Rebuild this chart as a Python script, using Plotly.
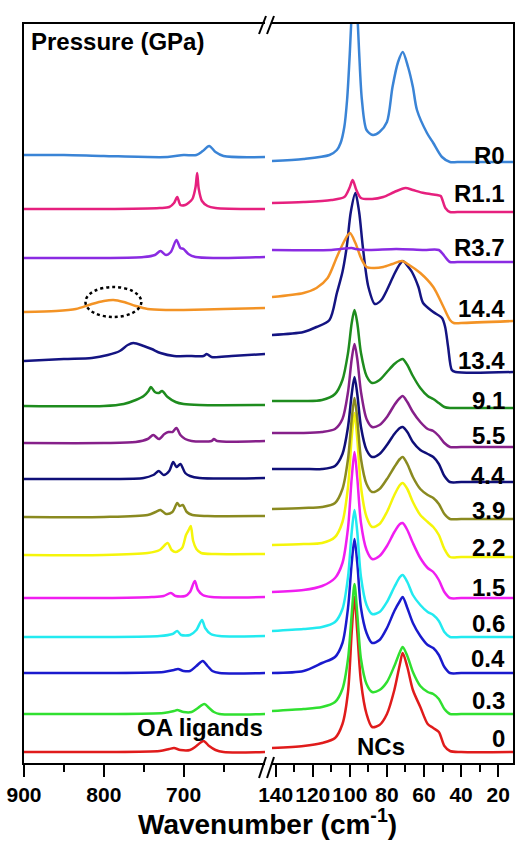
import plotly.graph_objects as go

FONT = "Liberation Sans, Arial, sans-serif"

# ---------------- data ----------------
labels = ["0", "0.3", "0.4", "0.6", "1.5", "2.2", "3.9", "4.4", "5.5", "9.1",
          "13.4", "14.4", "R3.7", "R1.1", "R0"]
colors = ["#E01B1B", "#30E030", "#1A1ACD", "#22EAF0", "#F01EF0", "#F5F50A",
          "#8A8A20", "#0F0F78", "#86208A", "#1E8C1E", "#141482", "#F39325",
          "#8A2BE2", "#E6207E", "#3A84D6"]
# stacking offsets (a.u.) for the OA-ligand panel and for the NC panel
offset_left = [11, 49, 90, 126, 165, 208, 246, 284, 320, 357, 402, 451, 505, 554, 608]
offset_right = [11, 49, 90, 126, 165, 206, 244, 281, 316, 355, 391, 440, 501, 551, 601]
label_y = [25, 63, 105, 140, 176, 216, 253, 288, 328, 363, 403, 455, 516, 570, 608]

# OA ligands region: (wavenumber, intensity above baseline)
L_0 = [(900, 0), (800, 0), (730, 1), (718, 3), (712, 4), (704, 2), (692, 2), (684, 6), (675, 11), (668, 6), (660, 2), (650, 0), (598, 0)]
L_03 = [(900, 0), (800, 0), (725, 1), (712, 3), (708, 4), (700, 2), (690, 2), (682, 6), (674, 10), (668, 6), (662, 2), (655, 0), (598, 0)]
L_04 = [(900, 0), (800, 0), (725, 1), (712, 3), (707, 4), (700, 2), (692, 2), (684, 7), (676, 12), (670, 7), (664, 2), (655, 0), (598, 0)]
L_06 = [(900, 0), (800, 0), (730, 1), (714, 3), (708, 6), (703, 2), (692, 2), (684, 7), (677, 17), (673, 9), (666, 3), (655, 1), (598, 1)]
L_15 = [(900, 0), (800, 0), (740, 1), (725, 2), (716, 5), (710, 2), (698, 2), (692, 6), (686, 17), (682, 8), (676, 3), (665, 1), (598, 1)]
L_22 = [(900, 0), (800, 0), (745, 2), (730, 5), (720, 12), (715, 5), (710, 3), (702, 7), (697, 20), (693, 26), (691, 29), (688, 14), (684, 6), (678, 2), (660, 1), (598, 1)]
L_39 = [(900, 0), (800, 0), (745, 2), (735, 5), (729, 7), (722, 3), (714, 5), (708, 14), (705, 11), (701, 12), (696, 5), (689, 2), (670, 1), (598, 1)]
L_44 = [(900, 0), (800, 0), (750, 1), (738, 4), (731, 8), (725, 4), (718, 8), (713, 17), (709, 12), (704, 15), (698, 6), (692, 3), (680, 1), (598, 1)]
L_55 = [(900, 0), (800, 0), (760, 1), (745, 4), (738, 8), (731, 4), (724, 9), (719, 11), (714, 11), (709, 15), (704, 8), (698, 4), (690, 2), (665, 2), (662, 4), (658, 2), (598, 2)]
L_91 = [(900, 0), (800, 0), (775, 2), (760, 6), (750, 10), (744, 15), (741, 19), (736, 14), (731, 13), (727, 15), (720, 9), (710, 4), (700, 2), (680, 1), (598, 1)]
L_134 = [(900, 0), (850, 2), (815, 3), (795, 6), (780, 10), (770, 16), (763, 18), (750, 15), (740, 12), (729, 8), (712, 5), (690, 5), (675, 5), (671, 7), (665, 4), (640, 5), (598, 7)]
L_144 = [(900, 0), (860, 1), (835, 3), (815, 8), (800, 11), (788, 12), (775, 10), (760, 6), (745, 3), (720, 2), (700, 2), (650, 3), (598, 4)]
L_R37 = [(900, 0), (800, 0), (750, 1), (736, 3), (729, 7), (722, 3), (716, 6), (709, 18), (704, 10), (700, 9), (694, 4), (685, 1), (660, 0), (598, 1)]
L_R11 = [(900, 0), (800, 0), (730, 1), (718, 2), (712, 6), (708, 12), (704, 4), (698, 4), (694, 6), (689, 10), (685, 22), (683, 36), (681, 20), (677, 8), (670, 3), (660, 1), (598, 0)]
L_R0 = [(900, 0), (850, 0), (800, -1), (720, -2), (700, 0), (684, 0), (676, 4), (668, 9), (660, 3), (650, -1), (598, -2)]

# NC region: shared wavenumber grid for the lower spectra
NC_WN = [142, 125, 115, 108, 104, 101, 99, 97.5, 96, 94, 91, 88, 84, 80, 76, 73, 71.5, 69, 66, 62, 58, 55, 52, 49, 46, 40, 12]
N_0 = [4, 6, 9, 14, 28, 60, 120, 155, 120, 70, 38, 25, 27, 38, 62, 88, 99, 85, 62, 45, 28, 24, 20, 6, 1, 0, 0]
N_03 = [3, 5, 7, 12, 25, 55, 100, 130, 100, 55, 30, 22, 24, 32, 48, 62, 67, 58, 42, 28, 22, 20, 15, 5, 0, 0, 0]
N_04 = [0, 2, 10, 16, 30, 65, 110, 134, 110, 65, 40, 30, 33, 45, 62, 72, 76, 65, 50, 37, 28, 25, 18, 6, 0, 0, 0]
N_06 = [6, 8, 10, 15, 28, 60, 105, 127, 105, 60, 32, 23, 25, 35, 50, 60, 62, 55, 42, 32, 25, 22, 16, 5, 0, 0, 0]
N_15 = [6, 8, 12, 20, 35, 70, 120, 146, 120, 75, 48, 39, 42, 52, 66, 74, 75, 68, 55, 40, 30, 26, 18, 6, 0, 0, 0]
N_22 = [12, 13, 14, 20, 35, 70, 120, 144, 118, 70, 40, 30, 33, 45, 62, 72, 74, 68, 55, 42, 35, 30, 22, 8, 0, 0, 0]
N_39 = [10, 11, 12, 16, 30, 60, 100, 121, 100, 60, 35, 27, 30, 40, 52, 60, 62, 55, 42, 30, 24, 21, 15, 5, 0, 0, 0]
N_44 = [13, 13, 13, 16, 28, 55, 88, 105, 88, 55, 32, 25, 28, 37, 48, 54, 55, 50, 40, 32, 28, 25, 18, 6, 0, 0, 0]
N_55 = [14, 14, 15, 18, 28, 55, 88, 103, 88, 55, 28, 20, 22, 30, 42, 49, 51, 45, 35, 25, 18, 16, 11, 4, 0, 0, 0]
N_91 = [7, 7, 8, 14, 28, 55, 85, 98, 85, 55, 32, 25, 28, 36, 44, 48, 49, 43, 32, 20, 12, 9, 5, 1, 0, 0, 0]

WN_134 = [142, 125, 118, 111, 107, 104, 101.7, 99.5, 97, 95, 93, 90, 86.5, 83, 80, 76, 73, 71.4, 68, 66.5, 63, 60.5, 55, 50.3, 48.6, 47, 45, 43, 12]
N_134 = [37, 40, 45, 52, 79, 100, 125, 160, 179, 160, 125, 85, 68, 72, 82, 98, 108, 111, 104, 100, 85, 69, 60, 54, 45, 25, 2, 0, 0]
WN_144 = [142, 125, 118, 112, 107, 103, 100, 97, 94, 91, 87, 82, 77, 72, 68, 62, 55, 50, 46, 44, 40, 12]
N_144 = [26, 30, 35, 45, 66, 82, 90, 80, 65, 56, 55, 56, 59, 62, 58, 50, 36, 18, 3, 0, 0, 2]
WN_R37 = [142, 110, 99, 97, 90, 75, 60, 52, 49, 46, 42, 12]
N_R37 = [12, 12, 14, 13, 12, 13, 12, 12, 6, 0, 0, 0]
WN_R11 = [142, 125, 110, 103, 100, 98.5, 96.5, 94, 88, 82, 76, 70, 66, 60, 53, 51, 48.5, 46, 42, 12]
N_R11 = [9, 10, 12, 15, 25, 32, 22, 14, 13, 15, 20, 24, 22, 19, 17, 16, 4, 0, 0, 0]
WN_R0 = [142, 125, 111, 107, 105, 103, 101.5, 100, 98.5, 97.5, 96.5, 95, 93.5, 91, 87.6, 84, 80, 77, 74, 71.5, 68.6, 66, 63.8, 58.4, 55, 50.3, 46, 42, 12]
N_R0 = [1, 3, 7, 12, 19, 35, 62, 110, 170, 200, 170, 110, 62, 32, 27, 30, 40, 75, 100, 110, 95, 75, 52, 29, 19, 5, 0, 0, 0]

left_sets = [L_0, L_03, L_04, L_06, L_15, L_22, L_39, L_44, L_55, L_91, L_134, L_144, L_R37, L_R11, L_R0]
right_sets = [(NC_WN, N_0), (NC_WN, N_03), (NC_WN, N_04), (NC_WN, N_06), (NC_WN, N_15),
              (NC_WN, N_22), (NC_WN, N_39), (NC_WN, N_44), (NC_WN, N_55), (NC_WN, N_91),
              (WN_134, N_134), (WN_144, N_144), (WN_R37, N_R37), (WN_R11, N_R11), (WN_R0, N_R0)]

left_major = [900, 800, 700]
left_minor = [850, 750, 650]
right_major = [140, 120, 100, 80, 60, 40, 20]
right_minor = [130, 110, 90, 70, 50, 30]

# ---------------- figure ----------------
W, H = 519, 845
ML, MR, MT, MB = 24, 6, 24, 82
PW = W - ML - MR
PH = H - MT - MB
D1 = (265 - ML) / PW
D2 = (272 - ML) / PW


def px(xp):
    return (xp - ML) / PW


def py(yp):
    return (H - MB - yp) / PH


fig = go.Figure()
for i in range(len(labels)):
    wl = [p[0] for p in left_sets[i]]
    vl = [offset_left[i] + p[1] for p in left_sets[i]]
    fig.add_trace(go.Scatter(x=wl, y=vl, xaxis="x", yaxis="y", mode="lines",
                             line=dict(color=colors[i], width=2.5, shape="spline", smoothing=0.8),
                             hoverinfo="skip", showlegend=False))
    wr, nr = right_sets[i]
    fig.add_trace(go.Scatter(x=wr, y=[offset_right[i] + v for v in nr], xaxis="x2", yaxis="y2",
                             mode="lines",
                             line=dict(color=colors[i], width=2.5, shape="spline", smoothing=0.8),
                             hoverinfo="skip", showlegend=False))

tickfont = dict(family=FONT, size=21, color="black", weight="bold")
common_x = dict(ticks="outside", ticklen=12, tickwidth=2, tickcolor="black", tickangle=0,
                showline=True, linecolor="black", linewidth=2, mirror=True,
                showgrid=False, zeroline=False, tickfont=tickfont, ticklabelstandoff=0)

fig.update_layout(
    width=W, height=H,
    margin=dict(l=ML, r=MR, t=MT, b=MB),
    paper_bgcolor="white", plot_bgcolor="white", showlegend=False,
    xaxis=dict(domain=[0, D1], range=[900, 598], anchor="y", tickvals=left_major,
               minor=dict(tickvals=left_minor, ticks="outside", ticklen=7, tickwidth=2,
                          tickcolor="black", showgrid=False),
               **common_x),
    xaxis2=dict(domain=[D2, 1], range=[142, 12], anchor="y2", tickvals=right_major,
                minor=dict(tickvals=right_minor, ticks="outside", ticklen=7, tickwidth=2,
                           tickcolor="black", showgrid=False),
                **common_x),
    yaxis=dict(domain=[0, 1], range=[0, PH], anchor="x", showline=True, linecolor="black",
               linewidth=2, showticklabels=False, ticks="", showgrid=False, zeroline=False),
    yaxis2=dict(domain=[0, 1], range=[0, PH], anchor="x2", side="right", showline=True,
                linecolor="black", linewidth=2, showticklabels=False, ticks="",
                showgrid=False, zeroline=False),
)

ann = []
for i, lab in enumerate(labels):
    ann.append(dict(x=15.5, y=label_y[i], xref="x2", yref="y2", text=lab, showarrow=False,
                    xanchor="right", yanchor="middle",
                    font=dict(family=FONT, size=24, color="black", weight="bold")))
ann.append(dict(x=px(29), y=py(42), xref="paper", yref="paper", text="Pressure (GPa)",
                showarrow=False, xanchor="left", yanchor="middle",
                font=dict(family=FONT, size=24, color="black", weight="bold")))
ann.append(dict(x=598, y=36, xref="x", yref="y", text="OA ligands", showarrow=False,
                xanchor="right", yanchor="middle",
                font=dict(family=FONT, size=24, color="black", weight="bold")))
ann.append(dict(x=83.2, y=17, xref="x2", yref="y2", text="NCs", showarrow=False,
                xanchor="center", yanchor="middle",
                font=dict(family=FONT, size=24, color="black", weight="bold")))
ann.append(dict(x=px(267), y=py(822), xref="paper", yref="paper",
                text="Wavenumber (cm<sup>-1</sup>)", showarrow=False,
                xanchor="center", yanchor="middle",
                font=dict(family=FONT, size=28, color="black", weight="bold")))
fig.update_layout(annotations=ann)

shapes = []
# axis break marks
for (x0, y0, x1, y1) in [(259, 34, 266, 16), (267, 34, 274, 16),
                         (259, 778, 266, 757), (267, 778, 274, 757)]:
    shapes.append(dict(type="line", xref="paper", yref="paper",
                       x0=px(x0), y0=py(y0), x1=px(x1), y1=py(y1),
                       line=dict(color="black", width=2)))
# dotted ellipse highlighting the 14.4 GPa band
shapes.append(dict(type="circle", xref="x", yref="y", x0=823, x1=753, y0=446, y1=476,
                   line=dict(color="black", width=2.5, dash="dot")))
fig.update_layout(shapes=shapes)

fig.write_html("out.html")
